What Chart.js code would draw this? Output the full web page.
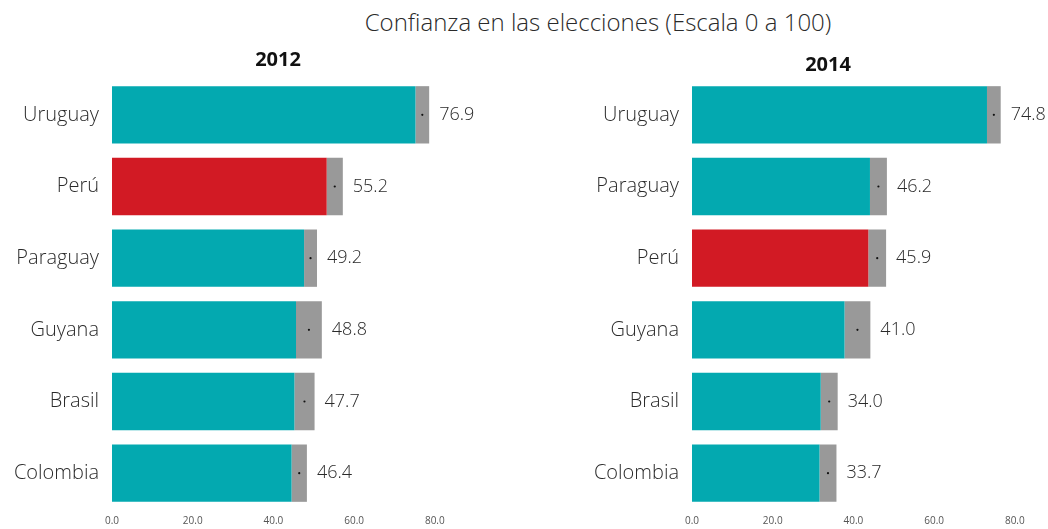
<!DOCTYPE html>
<html>
<head>
<meta charset="utf-8">
<script src="https://cdn.jsdelivr.net/npm/chart.js@4/dist/chart.umd.min.js"></script>
<style>
  html, body { margin: 0; padding: 0; background: #fff; }
  #wrap { position: relative; width: 1048px; height: 529px; overflow: hidden; }
  #title { position: absolute; left: 0; top: 5px; width: 1196px; text-align: center;
    font-family: "Open Sans", sans-serif; font-weight: 300; font-size: 24px; color: #2a2a2a; }
  .box { position: absolute; top: 0; height: 529px; }
</style>
</head>
<body>
<div id="wrap">
  <div id="title">Confianza en las elecciones (Escala 0 a 100)</div>
  <div class="box" style="left:0;width:540px"><canvas id="c1"></canvas></div>
  <div class="box" style="left:540px;width:508px"><canvas id="c2"></canvas></div>
</div>
<script>
// ---- data ----
const categories2012 = ["Uruguay", "Perú", "Paraguay", "Guyana", "Brasil", "Colombia"];
const values2012 = [76.9, 55.2, 49.2, 48.8, 47.7, 46.4];
const errors2012 = [1.7, 2.0, 1.6, 3.2, 2.5, 1.9];
const categories2014 = ["Uruguay", "Paraguay", "Perú", "Guyana", "Brasil", "Colombia"];
const values2014 = [74.8, 46.2, 45.9, 41.0, 34.0, 33.7];
const errors2014 = [1.7, 2.1, 2.2, 3.2, 2.1, 2.1];
const highlight = "Perú";
const xTicks = [0, 20, 40, 60, 80];

const TEAL = "#03a9b0", RED = "#d21a24", GREY = "#999999";
const FONT = "'Open Sans', sans-serif";

const markerPlugin = {
  id: "marker",
  afterDatasetsDraw(chart, args, opts) {
    const ctx = chart.ctx;
    const xs = chart.scales.x, ys = chart.scales.y;
    opts.values.forEach((v, i) => {
      const y = ys.getPixelForValue(i);
      const xv = xs.getPixelForValue(v);
      const xh = xs.getPixelForValue(v + opts.errors[i]);
      ctx.save();
      ctx.fillStyle = "#111";
      ctx.beginPath();
      ctx.arc(xv, y, 1.1, 0, Math.PI * 2);
      ctx.fill();
      ctx.fillStyle = "#2a2a2a";
      ctx.font = "300 18px " + FONT;
      ctx.textBaseline = "middle";
      ctx.textAlign = "left";
      ctx.fillText(v.toFixed(1), xh + 10, y);
      ctx.restore();
    });
    // panel heading
    ctx.save();
    ctx.fillStyle = "#111";
    ctx.font = "bold 20px " + FONT;
    ctx.textAlign = "center";
    ctx.textBaseline = "middle";
    ctx.fillText(opts.heading, chart.chartArea.left + opts.headingDx, opts.headingY);
    ctx.restore();
  }
};

function makeChart(id, cats, vals, errs, year, yWidth, padRight, headingDx, headingY) {
  const low = vals.map((v, i) => +(v - errs[i]).toFixed(2));
  const band = errs.map(e => 2 * e);
  return new Chart(document.getElementById(id), {
    type: "bar",
    data: {
      labels: cats,
      datasets: [
        { data: low, backgroundColor: cats.map(c => c === highlight ? RED : TEAL),
          borderWidth: 0, categoryPercentage: 0.8, barPercentage: 1.0 },
        { data: band, backgroundColor: GREY,
          borderWidth: 0, categoryPercentage: 0.8, barPercentage: 1.0 }
      ]
    },
    options: {
      indexAxis: "y",
      responsive: true,
      maintainAspectRatio: false,
      animation: false,
      layout: { padding: { left: 0, right: padRight, top: 79, bottom: 0 } },
      plugins: {
        legend: { display: false },
        tooltip: { enabled: false },
        title: { display: false },
        marker: { values: vals, errors: errs, heading: year, headingDx: headingDx, headingY: headingY }
      },
      scales: {
        x: {
          stacked: true, min: 0, max: 85,
          grid: { display: false, drawTicks: false }, border: { display: false },
          afterBuildTicks: s => { s.ticks = xTicks.map(v => ({ value: v })); },
          afterFit: s => { s.height = 20; },
          ticks: { padding: 6, color: "#555", font: { family: FONT, size: 10 },
            callback: v => Number(v).toFixed(1) }
        },
        y: {
          stacked: true,
          grid: { display: false, drawTicks: false }, border: { display: false },
          afterFit: s => { s.width = yWidth; s.paddingTop = 0; s.paddingBottom = 0; },
          ticks: { padding: 13, color: "#2a2a2a", font: { family: FONT, size: 20, weight: 300 } }
        }
      }
    },
    plugins: [markerPlugin]
  });
}

makeChart("c1", categories2012, values2012, errors2012, "2012", 112, 85, 166, 60);
makeChart("c2", categories2014, values2014, errors2014, "2014", 152, 13, 136, 65);
</script>
</body>
</html>
